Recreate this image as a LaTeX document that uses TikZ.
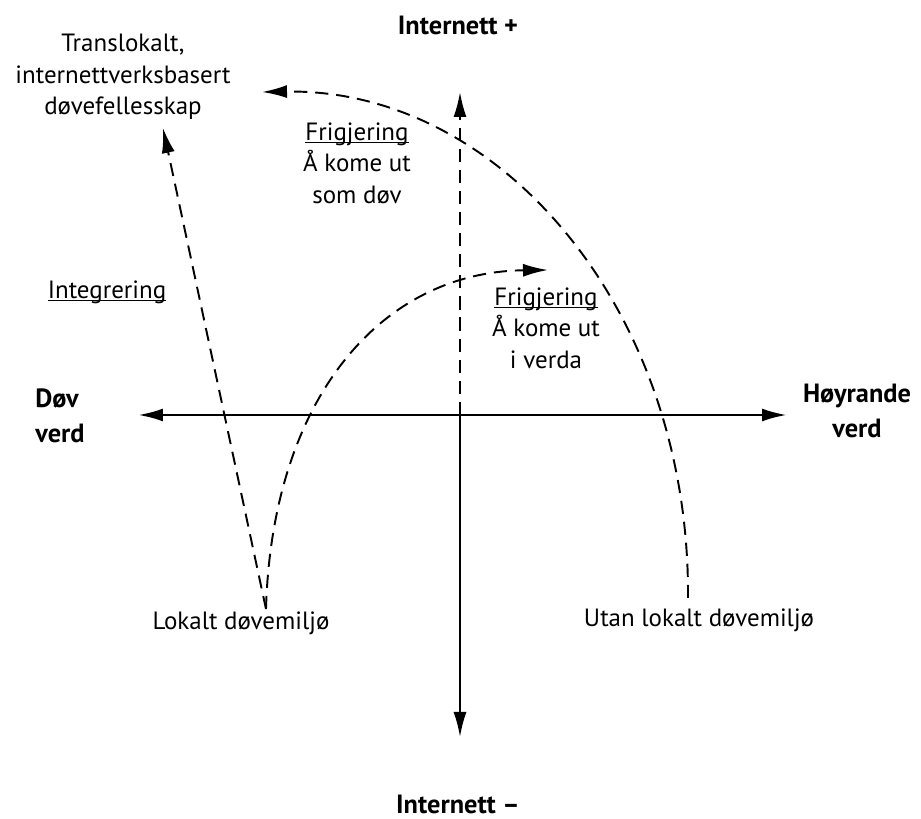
\documentclass[tikz,border=0pt]{standalone}
\usepackage{fontspec}
\setmainfont{PT Sans}
\usetikzlibrary{arrows.meta, positioning}
\newcommand{\uln}[1]{\setbox0\hbox{#1}\rlap{\rule[-1.6pt]{\wd0}{0.6pt}}\box0}
\tikzset{
    axis/.style={line width=1.6pt},
    vaxis/.style={line width=1.1pt},
    flow/.style={line width=1.1pt, dash pattern=on 7.5pt off 4.5pt, ->},
    pole/.style={font=\bfseries\fontsize{15}{19.8}\selectfont, align=center, inner sep=0pt},
    place/.style={font=\fontsize{14.2}{17.9}\selectfont, align=center, inner sep=0pt}
}

\begin{document}
\begin{tikzpicture}[>={Latex[length=5mm, width=2.6mm]}]
        \useasboundingbox (-9.2,-8.08) rectangle (9.22,8.3);

        % Axes
        \coordinate (O) at (0,0);
        \coordinate (W) at (-6.44,0);
        \coordinate (E) at (6.54,0);
        \coordinate (N) at (0,6.46);
        \coordinate (S) at (0,-6.44);
        \draw[axis, <->] (W) -- (E);
        \draw[vaxis, dash pattern=on 7.5pt off 4.5pt, ->] (O) -- (N);
        \draw[vaxis, ->] (O) -- (S);

        % Axis labels
        \node[pole, anchor=base] (netplus) at (-0.04,7.6) {Internett +};
        \node[pole, anchor=base] (netminus) at (-0.04,-7.96) {Internett –};
        \node[pole, align=left, anchor=west] (deaf) at (-8.5,-0.02) {Døv\\verd};
        \node[pole] (hearing) at (7.94,0.08) {Høyrande\\verd};

        % Places and paths
        \node[place] (transloc) at (-6.74,6.76) {Translokalt,\\internettverksbasert\\døvefellesskap};
        \node[place] (integ) at (-7.06,2.46) {\uln{Integrering}};
        \node[place] (frig1) at (-2.06,5.04) {\uln{Frigjering}\\Å kome ut\\som døv};
        \node[place] (frig2) at (1.72,1.74) {\uln{Frigjering}\\Å kome ut\\i verda};
        \node[place, anchor=base] (local) at (-4.38,-4.3) {Lokalt døvemiljø};
        \node[place, anchor=base] (nonlocal) at (4.78,-4.24) {Utan lokalt døvemiljø};

        \coordinate (Vbot) at (-3.88,-3.88);
        \coordinate (Ubot) at (4.56,-3.66);
        \coordinate (Ttip) at (-3.96,6.46);
        \coordinate (Itip) at (-5.94,5.74);
        \coordinate (Ftip) at (1.76,2.9);

        % Dashed flows
        \draw[flow] (Ubot) .. controls (4.6,2.1) and (0.8,6.54) .. (Ttip);
        \draw[flow] (Vbot) -- (Itip);
        \draw[flow] (Vbot) .. controls (-3.76,0.3) and (-1.6,2.86) .. (Ftip);
    \end{tikzpicture}
\end{document}
